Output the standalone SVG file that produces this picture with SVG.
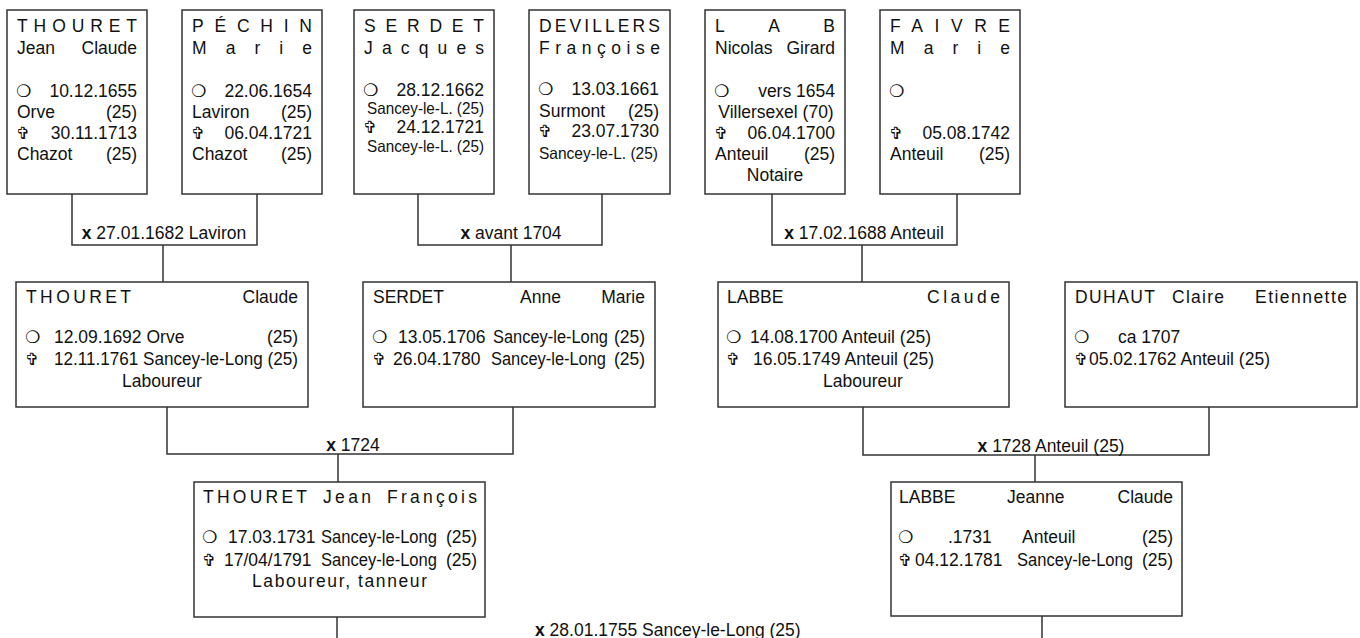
<svg xmlns="http://www.w3.org/2000/svg" width="1360" height="638" viewBox="0 0 1360 638">
<style>
.box{fill:#fff;stroke:#333;stroke-width:1.5}
.conn{fill:none;stroke:#333;stroke-width:1.5}
text{font-family:"Liberation Sans",Arial,sans-serif;font-size:17.5px;fill:#111}
.s{font-family:"DejaVu Sans",sans-serif;font-size:17px}
.c{font-size:16.5px}
.e{text-anchor:end}
.m{text-anchor:middle}
.b{font-weight:bold}
</style>
<rect width="1360" height="638" fill="#fff"/>
<g id="connectors">
<path class="conn" d="M72 194V245H257V194M163 245V282"/>
<path class="conn" d="M418 194V245H602V194M511 245V282"/>
<path class="conn" d="M772 194V245H957V194M862 245V282"/>
<path class="conn" d="M167 407V454H513V407M338 454V482"/>
<path class="conn" d="M863 407V455H1209V407M1035 455V482"/>
<path class="conn" d="M337 617V640M1042 616V640"/>
<text class="m" x="164" y="239"><tspan class="b">x</tspan> 27.01.1682 Laviron</text>
<text class="m" x="511" y="239"><tspan class="b">x</tspan> avant 1704</text>
<text class="m" x="864" y="239"><tspan class="b">x</tspan> 17.02.1688 Anteuil</text>
<text class="m" x="353" y="451"><tspan class="b">x</tspan> 1724</text>
<text class="m" x="1051" y="452"><tspan class="b">x</tspan> 1728 Anteuil (25)</text>
<text x="535" y="636"><tspan class="b">x</tspan> 28.01.1755 Sancey-le-Long (25)</text>
</g>
<g id="thouret-jean-claude">
<rect class="box" x="7" y="10" width="140" height="184"/>
<text x="17" y="32" textLength="120" lengthAdjust="spacing">THOURET</text>
<text x="17" y="54">Jean</text><text class="e" x="137" y="54">Claude</text>
<text class="s" x="16" y="97">❍</text><text class="e" x="137" y="97">10.12.1655</text>
<text x="17" y="118">Orve</text><text class="e" x="137" y="118">(25)</text>
<text class="s" x="16" y="139">✞</text><text class="e" x="137" y="139">30.11.1713</text>
<text x="17" y="160">Chazot</text><text class="e" x="137" y="160">(25)</text>
</g>
<g id="pechin-marie">
<rect class="box" x="182" y="10" width="140" height="184"/>
<text x="192" y="32" textLength="120" lengthAdjust="spacing">PÉCHIN</text>
<text x="192" y="54" textLength="120" lengthAdjust="spacing">Marie</text>
<text class="s" x="191" y="97">❍</text><text class="e" x="312" y="97">22.06.1654</text>
<text x="192" y="118">Laviron</text><text class="e" x="312" y="118">(25)</text>
<text class="s" x="191" y="139">✞</text><text class="e" x="312" y="139">06.04.1721</text>
<text x="192" y="160">Chazot</text><text class="e" x="312" y="160">(25)</text>
</g>
<g id="serdet-jacques">
<rect class="box" x="354" y="10" width="140" height="184"/>
<text x="364" y="32" textLength="120" lengthAdjust="spacing">SERDET</text>
<text x="364" y="54" textLength="120" lengthAdjust="spacing">Jacques</text>
<text class="s" x="363" y="96">❍</text><text class="e" x="484" y="96">28.12.1662</text>
<text class="c" x="367" y="114" textLength="117" lengthAdjust="spacingAndGlyphs">Sancey-le-L. (25)</text>
<text class="s" x="363" y="133">✞</text><text class="e" x="484" y="133">24.12.1721</text>
<text class="c" x="367" y="152" textLength="117" lengthAdjust="spacingAndGlyphs">Sancey-le-L. (25)</text>
</g>
<g id="devillers-francoise">
<rect class="box" x="529" y="10" width="141" height="184"/>
<text x="539" y="32" textLength="121" lengthAdjust="spacing">DEVILLERS</text>
<text x="539" y="54" textLength="121" lengthAdjust="spacing">Françoise</text>
<text class="s" x="538" y="95">❍</text><text class="e" x="659" y="95">13.03.1661</text>
<text x="539" y="117">Surmont</text><text class="e" x="659" y="117">(25)</text>
<text class="s" x="538" y="137">✞</text><text class="e" x="659" y="137">23.07.1730</text>
<text class="c" x="539" y="159" textLength="119" lengthAdjust="spacingAndGlyphs">Sancey-le-L. (25)</text>
</g>
<g id="lab-nicolas-girard">
<rect class="box" x="705" y="10" width="140" height="184"/>
<text x="715" y="32" textLength="120" lengthAdjust="spacing">LAB</text>
<text x="715" y="54">Nicolas</text><text class="e" x="835" y="54">Girard</text>
<text class="s" x="714" y="97">❍</text><text class="e" x="835" y="97">vers 1654</text>
<text class="m" x="776" y="118">Villersexel (70)</text>
<text class="s" x="714" y="139">✞</text><text class="e" x="835" y="139">06.04.1700</text>
<text x="715" y="160">Anteuil</text><text class="e" x="835" y="160">(25)</text>
<text class="m" x="775" y="181">Notaire</text>
</g>
<g id="faivre-marie">
<rect class="box" x="880" y="10" width="140" height="184"/>
<text x="890" y="32" textLength="120" lengthAdjust="spacing">FAIVRE</text>
<text x="890" y="54" textLength="120" lengthAdjust="spacing">Marie</text>
<text class="s" x="889" y="97">❍</text>
<text class="s" x="889" y="139">✞</text><text class="e" x="1010" y="139">05.08.1742</text>
<text x="890" y="160">Anteuil</text><text class="e" x="1010" y="160">(25)</text>
</g>
<g id="thouret-claude">
<rect class="box" x="16" y="282" width="292" height="125"/>
<text x="26" y="303" textLength="105" lengthAdjust="spacing">THOURET</text><text class="e" x="298" y="303">Claude</text>
<text class="s" x="25" y="343">❍</text><text x="54" y="343">12.09.1692 Orve</text><text class="e" x="298" y="343">(25)</text>
<text class="s" x="25" y="365">✞</text><text x="54" y="365" textLength="244" lengthAdjust="spacingAndGlyphs">12.11.1761 Sancey-le-Long (25)</text>
<text class="m" x="162" y="387">Laboureur</text>
</g>
<g id="serdet-anne-marie">
<rect class="box" x="363" y="282" width="292" height="125"/>
<text x="373" y="303">SERDET</text><text x="520" y="303">Anne</text><text class="e" x="645" y="303">Marie</text>
<text class="s" x="372" y="343">❍</text><text x="398" y="343">13.05.1706</text><text x="493" y="343" textLength="115" lengthAdjust="spacingAndGlyphs">Sancey-le-Long</text><text class="e" x="645" y="343">(25)</text>
<text class="s" x="372" y="365">✞</text><text x="393" y="365">26.04.1780</text><text x="491" y="365" textLength="115" lengthAdjust="spacingAndGlyphs">Sancey-le-Long</text><text class="e" x="645" y="365">(25)</text>
</g>
<g id="labbe-claude">
<rect class="box" x="718" y="282" width="291" height="125"/>
<text x="727" y="303">LABBE</text><text x="927" y="303" textLength="73" lengthAdjust="spacing">Claude</text>
<text class="s" x="726" y="343">❍</text><text x="750" y="343">14.08.1700 Anteuil (25)</text>
<text class="s" x="726" y="365">✞</text><text x="753" y="365">16.05.1749 Anteuil (25)</text>
<text class="m" x="863" y="387">Laboureur</text>
</g>
<g id="duhaut-claire-etiennette">
<rect class="box" x="1065" y="282" width="292" height="125"/>
<text x="1075" y="303" textLength="80" lengthAdjust="spacing">DUHAUT</text><text x="1172" y="303" textLength="52" lengthAdjust="spacing">Claire</text><text x="1255" y="303" textLength="92" lengthAdjust="spacing">Etiennette</text>
<text class="s" x="1074" y="343">❍</text><text x="1118" y="343">ca 1707</text>
<text class="s" x="1074" y="365">✞</text><text x="1089" y="365">05.02.1762 Anteuil (25)</text>
</g>
<g id="thouret-jean-francois">
<rect class="box" x="194" y="482" width="291" height="135"/>
<text x="203" y="503" textLength="104" lengthAdjust="spacing">THOURET</text><text x="323" y="503" textLength="48" lengthAdjust="spacing">Jean</text><text x="387" y="503" textLength="90" lengthAdjust="spacing">François</text>
<text class="s" x="202" y="543">❍</text><text x="228" y="543">17.03.1731</text><text x="321" y="543" textLength="116" lengthAdjust="spacingAndGlyphs">Sancey-le-Long</text><text class="e" x="477" y="543">(25)</text>
<text class="s" x="202" y="566">✞</text><text x="224" y="566">17/04/1791</text><text x="321" y="566" textLength="116" lengthAdjust="spacingAndGlyphs">Sancey-le-Long</text><text class="e" x="477" y="566">(25)</text>
<text x="252" y="587" textLength="175" lengthAdjust="spacing">Laboureur, tanneur</text>
</g>
<g id="labbe-jeanne-claude">
<rect class="box" x="891" y="482" width="291" height="134"/>
<text x="899" y="503">LABBE</text><text x="1007" y="503">Jeanne</text><text class="e" x="1173" y="503">Claude</text>
<text class="s" x="898" y="543">❍</text><text x="948" y="543">.1731</text><text x="1022" y="543">Anteuil</text><text class="e" x="1173" y="543">(25)</text>
<text class="s" x="898" y="566">✞</text><text x="915" y="566">04.12.1781</text><text x="1017" y="566" textLength="116" lengthAdjust="spacingAndGlyphs">Sancey-le-Long</text><text class="e" x="1173" y="566">(25)</text>
</g>
</svg>
